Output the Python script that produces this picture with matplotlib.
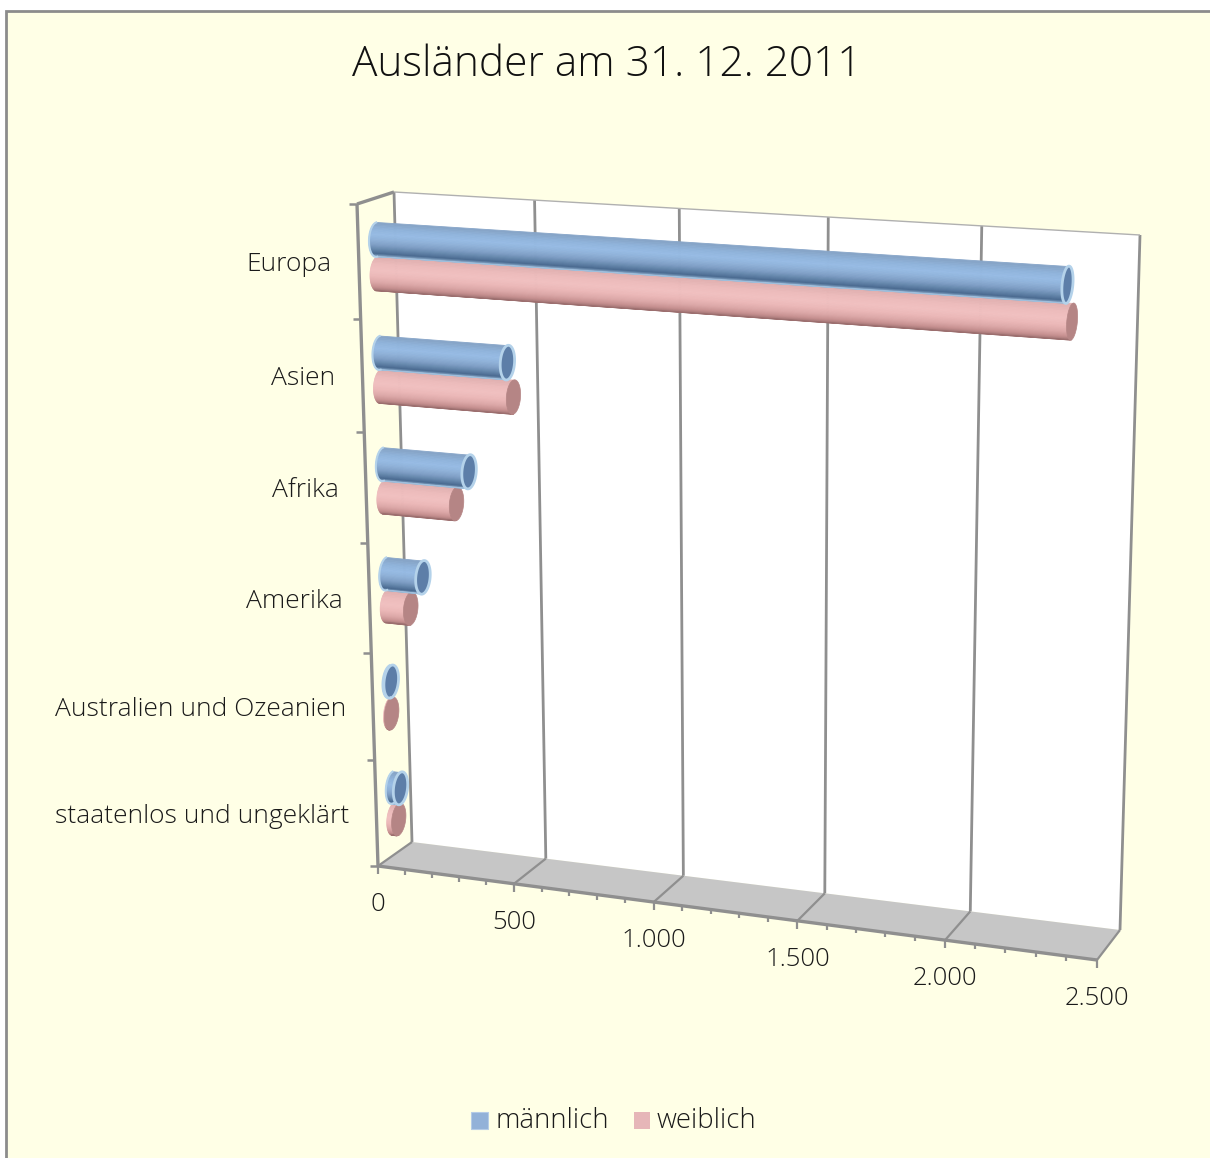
import numpy as np
import matplotlib
matplotlib.use("Agg")
import matplotlib.pyplot as plt
from matplotlib.colors import LinearSegmentedColormap
from matplotlib.patches import Polygon, Rectangle

plt.rcParams["font.family"] = ["Open Sans", "DejaVu Sans"]
plt.rcParams["font.weight"] = "light"

# Data
categories = ["Europa", "Asien", "Afrika", "Amerika", "Australien und Ozeanien", "staatenlos und ungeklärt"]
maennlich = [2318, 455, 310, 133, 5, 28]
weiblich = [2335, 474, 262, 85, 3, 18]
series_names = ["männlich", "weiblich"]
value_ticks = [0, 500, 1000, 1500, 2000, 2500]
value_labels = ["0", "500", "1.000", "1.500", "2.000", "2.500"]
minor_step = 100
title = "Ausländer am 31. 12. 2011"

W, H = 1210, 1158
VMAX = 2500
NCAT = len(categories)


def homography(src, dst):
    # 4 point solve, maps (value, category) to pixels
    A, b = [], []
    for (x, y), (u, v) in zip(src, dst):
        A.append([x, y, 1, 0, 0, 0, -u * x, -u * y])
        A.append([0, 0, 0, x, y, 1, -v * x, -v * y])
        b += [u, v]
    return np.append(np.linalg.solve(np.array(A, float), np.array(b, float)), 1).reshape(3, 3)


corners = [(0, 0), (VMAX, 0), (VMAX, NCAT), (0, NCAT)]
H_back = homography(corners, [(394, 192), (1140, 235), (1120, 930), (412, 842)])
H_front = homography(corners, [(357, 204), (1114, 253), (1097, 960), (378, 866)])


def project(v, c, d=0.0):
    # d = 0 back wall, d = 1 front of the chart
    p = np.array([v, c, 1.0])
    a = H_back @ p
    b = H_front @ p
    return (1 - d) * a[:2] / a[2] + d * b[:2] / b[2]


fig = plt.figure(figsize=(W / 100, H / 100), dpi=100, facecolor="white")
ax = fig.add_axes([0, 0, 1, 1])
ax.set_xlim(0, W)
ax.set_ylim(H, 0)
ax.axis("off")

# Chart area
ax.add_patch(Rectangle((5.5, 11), W, H, facecolor="#FFFFE6", edgecolor="#8c8c8c", lw=2, zorder=0))

# Walls and floor
wall = [project(0, 0), project(VMAX, 0), project(VMAX, NCAT), project(0, NCAT)]
ax.add_patch(Polygon(wall, facecolor="white", edgecolor="none", zorder=1))
floor = [project(0, NCAT), project(VMAX, NCAT), project(VMAX, NCAT, 1), project(0, NCAT, 1)]
ax.add_patch(Polygon(floor, facecolor="#c6c6c6", edgecolor="none", zorder=1))

GRID = "#8f8f8f"


def seg(p, q, lw=2.0, color=GRID, z=2):
    ax.plot([p[0], q[0]], [p[1], q[1]], color=color, lw=lw, solid_capstyle="butt", zorder=z)


for v in value_ticks:
    seg(project(v, 0), project(v, NCAT))
    seg(project(v, NCAT), project(v, NCAT, 1), lw=1.6)

seg(project(0, 0), project(VMAX, 0), lw=1.0, color="#b0b0b0")
seg(project(0, 0), project(0, 0, 1), lw=2.4)
seg(project(0, 0, 1), project(0, NCAT, 1), lw=2.4)
seg(project(0, NCAT, 1), project(VMAX, NCAT, 1), lw=2.4)

# Ticks
for c in range(NCAT + 1):
    p = project(0, c, 1)
    seg(p, p + [-8, 0], lw=1.8)
for v in range(0, VMAX + 1, minor_step):
    p = project(v, NCAT, 1)
    seg(p, p + [0, 8 if v % 500 == 0 else 5], lw=1.6)

# Cylinders
cm_blue = LinearSegmentedColormap.from_list(
    "b", ["#86a3c6", "#90b4dc", "#97bbe4", "#8fb1d8", "#7f9fc6", "#6486ab", "#4a6a90", "#a9c8e4"])
cm_pink = LinearSegmentedColormap.from_list(
    "p", ["#e0b0b0", "#edbcbc", "#f0c0c0", "#ebb8b8", "#dda8a8", "#c69090", "#986c6c"])
BAR_R = 0.15
BAR_DR = 0.21
BAR_D = 0.5
OFFSETS = [0.363, 0.663]
CAP_COLORS = ["#5d7ea8", "#b58585"]
RIM_COLORS = ["#b4d2ea", None]


def ellipse_pts(v, c, start=0, stop=2 * np.pi, n=60):
    t = np.linspace(start, stop, n)
    return [project(v, c + BAR_R * np.sin(a), BAR_D + BAR_DR * np.cos(a)) for a in t]


def cylinder(value, c, cmap, cap_color, rim, z):
    n = 30
    s = np.linspace(-1, 1, n + 1)
    t = np.arcsin(s)
    for i in range(n):
        pts = []
        for a, v in ((t[i], 0), (t[i], value), (t[i + 1], value), (t[i + 1], 0)):
            pts.append(project(v, c + BAR_R * np.sin(a), BAR_D + BAR_DR * np.cos(a)))
        col = cmap((i + 0.5) / n)
        ax.add_patch(Polygon(pts, facecolor=col, edgecolor=col, lw=0.6, zorder=z))
    ax.add_patch(Polygon(ellipse_pts(value, c), facecolor=cap_color,
                         edgecolor=rim if rim else cap_color, lw=2.0 if rim else 0.5, zorder=z + 0.1))
    if rim:
        left = np.array(ellipse_pts(0, c, -np.pi / 2, np.pi / 2))
        ax.plot(left[:, 0], left[:, 1], color=rim, lw=1.5, zorder=z + 0.1)


for i in range(NCAT):
    cylinder(weiblich[i], i + OFFSETS[1], cm_pink, CAP_COLORS[1], RIM_COLORS[1], 3 + 2 * i)
    cylinder(maennlich[i], i + OFFSETS[0], cm_blue, CAP_COLORS[0], RIM_COLORS[0], 4 + 2 * i)

# Text
TXT = "#1a1a1a"
ax.text(607, 65, title, ha="center", va="center", fontsize=30.5, color="#111111", zorder=20)
for i, name in enumerate(categories):
    p = project(0, i + 0.5, 1)
    ax.text(p[0] - 27, p[1] + 3, name, ha="right", va="center", fontsize=19, color=TXT, zorder=20)
for v, lab in zip(value_ticks, value_labels):
    p = project(v, NCAT, 1)
    ax.text(p[0], p[1] + 38.5, lab, ha="center", va="center", fontsize=18.5, color=TXT, zorder=20)

# Legend
ax.add_patch(Rectangle((471, 1112), 17, 17, facecolor="#92b1d8", edgecolor="#b5cbe6", lw=0.8, zorder=20))
ax.text(495, 1121, series_names[0], ha="left", va="center", fontsize=19.8, color=TXT, zorder=20)
ax.add_patch(Rectangle((634, 1112), 16, 17, facecolor="#e6b6b8", edgecolor="none", zorder=20))
ax.text(657, 1121, series_names[1], ha="left", va="center", fontsize=19.8, color=TXT, zorder=20)

fig.savefig("out.png", dpi=100)
